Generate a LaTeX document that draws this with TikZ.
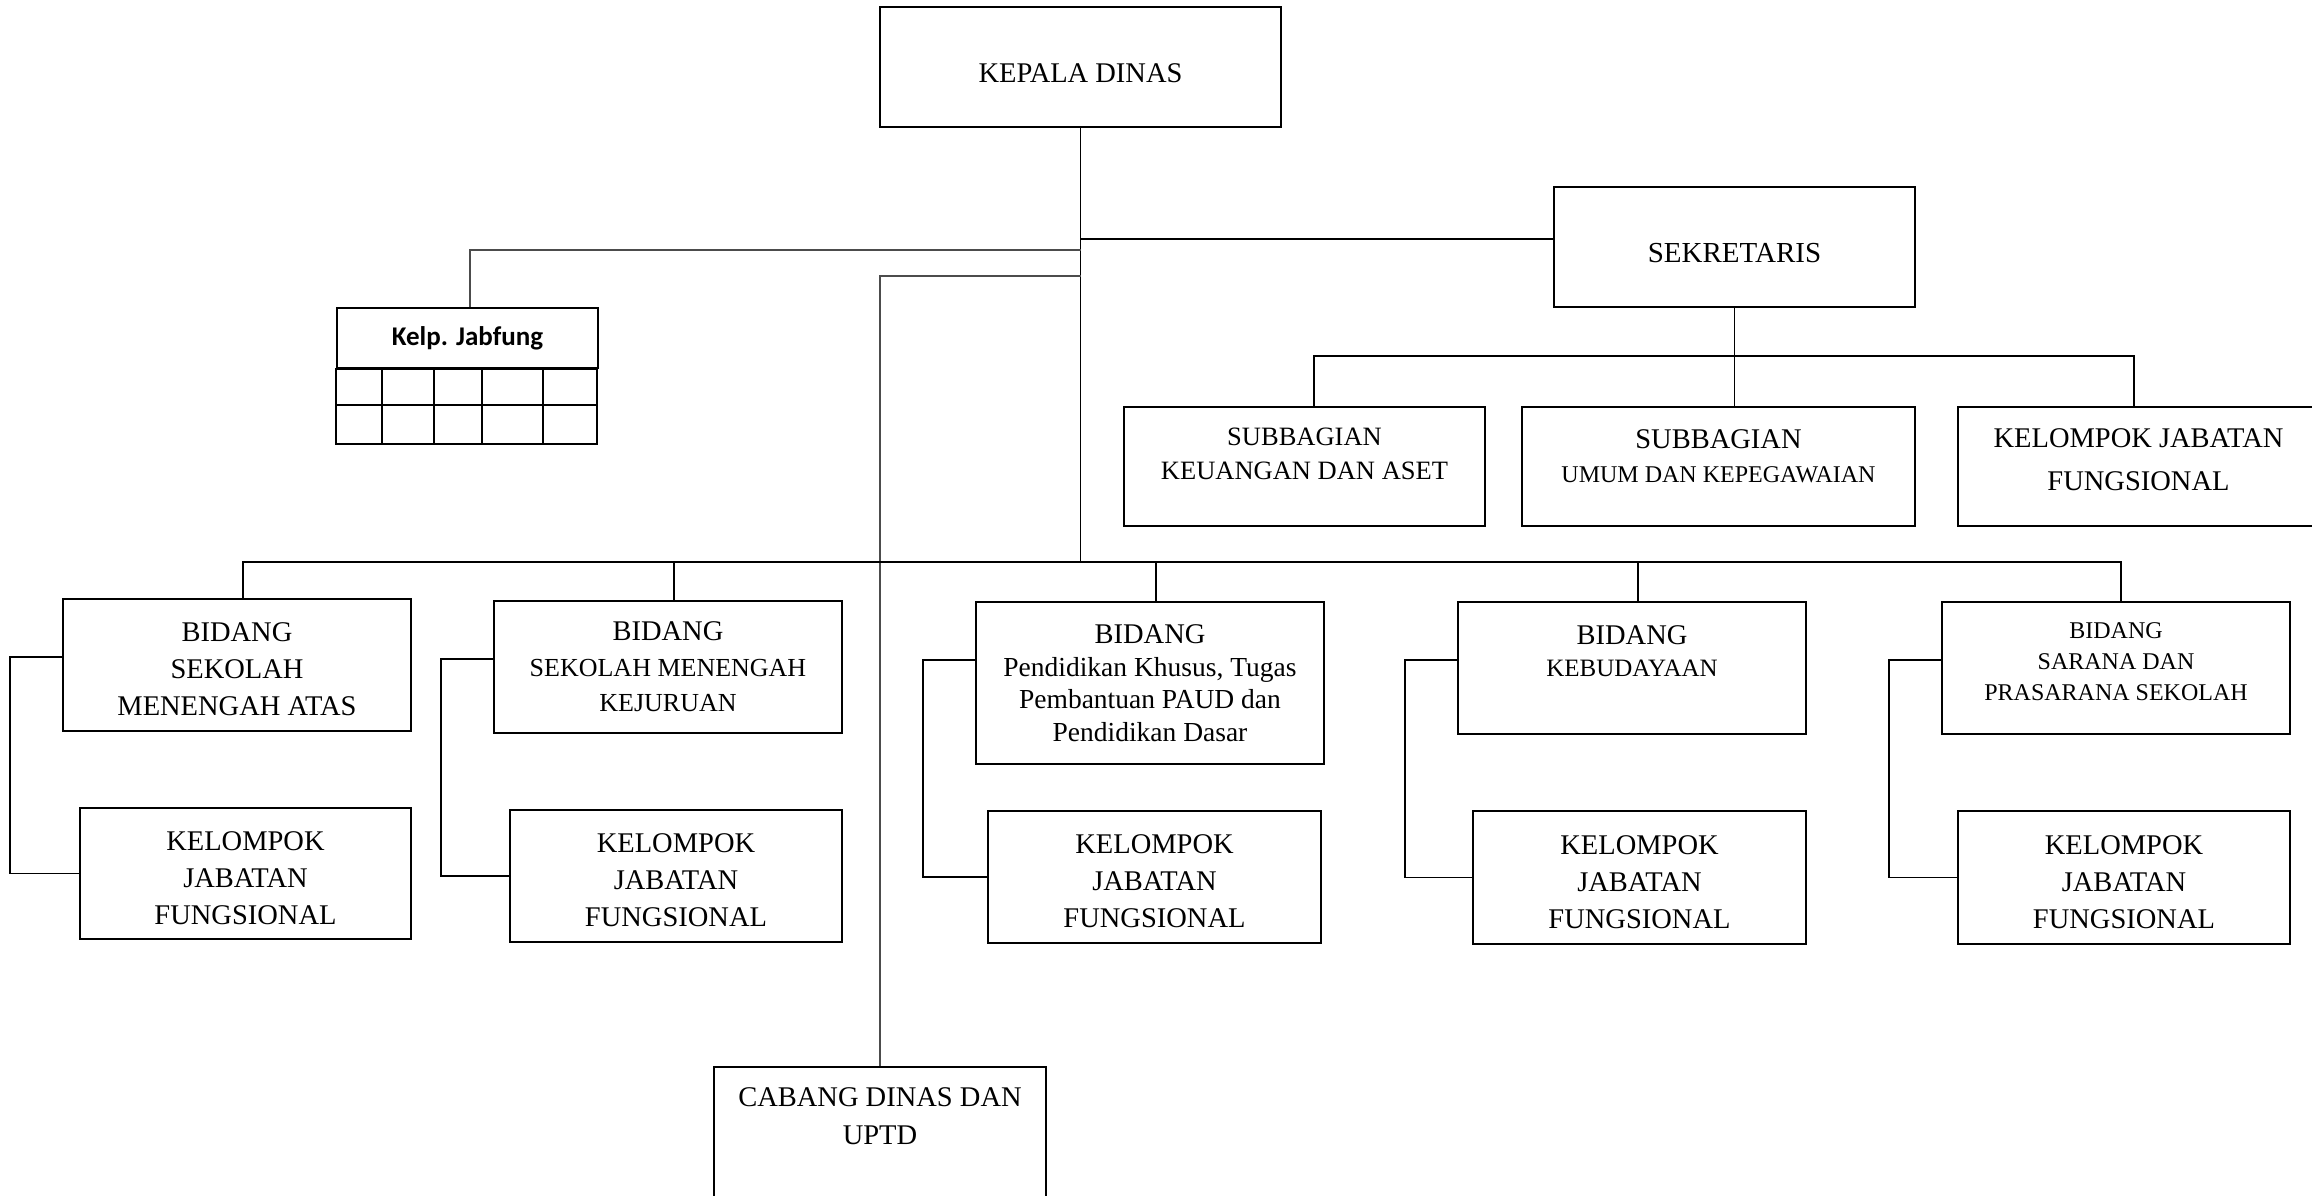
\documentclass[tikz,border=0pt]{standalone}
\usepackage{fontspec}
\setmainfont{Liberation Serif}
\newfontfamily\calibri{Carlito}
\usepackage{tikz}
\newcommand{\fsz}[2]{\fontsize{#1}{#2}\selectfont}
\newcommand{\liftup}[1]{\rule[-#1]{0pt}{#1}}
\newcommand{\dropdown}[1]{\rule{0pt}{#1}}

\begin{document}
\begin{tikzpicture}[x=1pt,y=-1pt,
	box/.style={draw,line width=2.1pt,align=center,inner sep=0pt,font=\fsz{28.5}{37}},
	line/.style={line width=1.8pt},
	gline/.style={line width=1.5pt,black!70},
	grid line/.style={line width=1.8pt}]
	
	\useasboundingbox (0,0) rectangle (2312,1196);
	
	\node[box,minimum width=401,minimum height=120] (kadis) at (1080.5,67) {\dropdown{31pt}KEPALA DINAS};
	\node[box,minimum width=361,minimum height=120,font=\fsz{29}{37}] (sek) at (1734.5,247) {\dropdown{31pt}SEKRETARIS};
	
	\node[box,minimum width=361,minimum height=119,font=\fsz{26.5}{34}] (sub1) at (1304.5,466.5) {SUBBAGIAN\\KEUANGAN DAN ASET\liftup{25pt}};
	\node[box,minimum width=393,minimum height=119,font=\fsz{28.5}{34}] (sub2) at (1718.5,466.5) {SUBBAGIAN\\{\fsz{24}{34}UMUM DAN KEPEGAWAIAN}\liftup{21pt}};
	\node[box,minimum width=361,minimum height=119,font=\fsz{28.5}{43}] (sub3) at (2138.5,466.5) {KELOMPOK JABATAN\\FUNGSIONAL\liftup{14pt}};
	
	\node[box,minimum width=261,minimum height=60,font=\calibri\bfseries\fsz{27}{32}] (jabfung) at (467.5,338) {Kelp. Jabfung};
	
	\node[box,minimum width=348,minimum height=132] (b1) at (237,665) {\dropdown{27pt}BIDANG\\SEKOLAH\\MENENGAH ATAS};
	\node[box,minimum width=348,minimum height=132,font=\fsz{28.5}{35.5}] (b2) at (668,667) {BIDANG\\{\fsz{26}{35.5}SEKOLAH MENENGAH}\\{\fsz{26}{35.5}KEJURUAN}};
	\node[box,minimum width=348,minimum height=162,font=\fsz{28.5}{32.5}] (b3) at (1150,683) {BIDANG\\{\fsz{27.5}{32.5}Pendidikan Khusus, Tugas}\\{\fsz{27.5}{32.5}Pembantuan PAUD dan}\\{\fsz{27.5}{32.5}Pendidikan Dasar}};
	\node[box,minimum width=348,minimum height=132,font=\fsz{28.5}{32}] (b4) at (1632,668) {BIDANG\\{\fsz{25}{32}KEBUDAYAAN}\liftup{34pt}};
	\node[box,minimum width=348,minimum height=132,font=\fsz{24}{31}] (b5) at (2116,668) {BIDANG\\SARANA DAN\\PRASARANA SEKOLAH\liftup{12pt}};
	
	\node[box,minimum width=331,minimum height=131] (k1) at (245.5,873.5) {\dropdown{28pt}KELOMPOK\\JABATAN\\FUNGSIONAL};
	\node[box,minimum width=332,minimum height=132] (k2) at (676,876) {\dropdown{28pt}KELOMPOK\\JABATAN\\FUNGSIONAL};
	\node[box,minimum width=333,minimum height=132] (k3) at (1154.5,877) {\dropdown{28pt}KELOMPOK\\JABATAN\\FUNGSIONAL};
	\node[box,minimum width=333,minimum height=133] (k4) at (1639.5,877.5) {\dropdown{28pt}KELOMPOK\\JABATAN\\FUNGSIONAL};
	\node[box,minimum width=332,minimum height=133] (k5) at (2124,877.5) {\dropdown{28pt}KELOMPOK\\JABATAN\\FUNGSIONAL};
	
	\node[box,minimum width=332,minimum height=160,font=\fsz{28.5}{38}] (cabang) at (880,1147) {CABANG DINAS DAN\\UPTD\liftup{62pt}};
	
	% grid under Kelp. Jabfung
	\draw[grid line] (jabfung.south west) rectangle ++(261,75);
	\draw[grid line] ([yshift=-36pt]jabfung.south west) -- ++(261,0);
	\foreach \x in {46,98,146,207}
		\draw[grid line] ([xshift=\x pt]jabfung.south west) -- ++(0,75);
	
	\coordinate (tsek) at (1080.5,239);
	\coordinate (tjab) at (1080.5,250);
	\coordinate (tcab) at (1080.5,276);
	\coordinate (bus) at (1080.5,562);
	
	\draw[line] (kadis.south) -- (bus);
	\draw[line] (tsek) -- (tsek -| sek.west);
	\draw[gline] (tjab) -| ([xshift=2.5pt]jabfung.north);
	\draw[gline] (tcab) -| (cabang.north);
	
	\draw[line] (sek.south) -- (sek.south |- sub2.north);
	\draw[line] ([xshift=9.5pt]sub1.north) -- ++(0,-50) -| ([xshift=-4.5pt]sub3.north);
	
	\draw[line] ([xshift=6pt]b1.north) -- ([xshift=6pt]b1.north |- bus) -- ([xshift=5pt]b5.north |- bus) -- ([xshift=5pt]b5.north);
	\foreach \b in {b2,b3,b4}
		\draw[line] ([xshift=6pt]\b.north) -- ([xshift=6pt]\b.north |- bus);
	\foreach \b/\k in {b1/k1,b2/k2,b3/k3,b4/k4,b5/k5}
		\draw[line] ([yshift=-59pt]\b.north west) -- ++(-52,0) |- (\k.west);
\end{tikzpicture}
\end{document}
